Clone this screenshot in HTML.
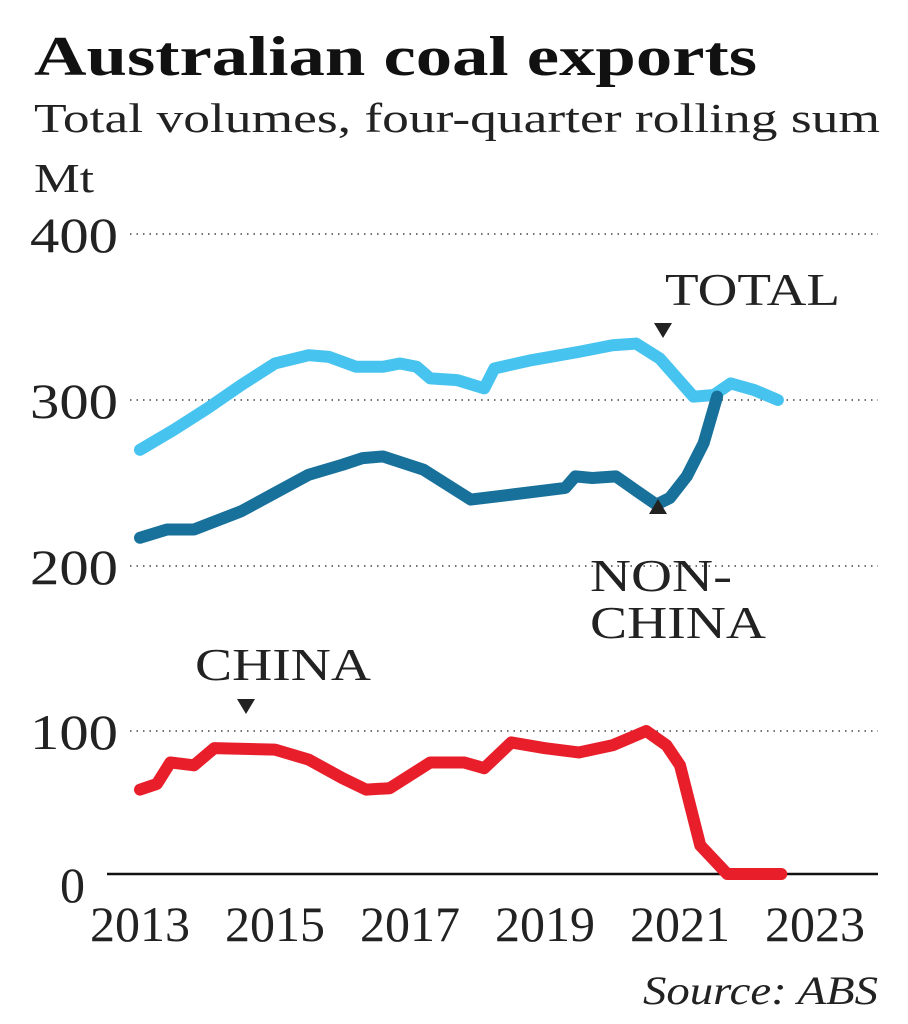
<!DOCTYPE html>
<html><head><meta charset="utf-8"><style>
body{margin:0;background:#fff;}
svg{display:block;font-family:"Liberation Serif",serif;}
</style></head><body>
<svg id="c" width="908" height="1024">
<text x="34" y="75" font-size="56" font-weight="bold" fill="#111" textLength="723" lengthAdjust="spacingAndGlyphs">Australian coal exports</text>
<text x="34" y="132" font-size="41" fill="#222" textLength="846" lengthAdjust="spacingAndGlyphs">Total volumes, four-quarter rolling sum</text>
<text x="34" y="192" font-size="41" fill="#222" textLength="60" lengthAdjust="spacingAndGlyphs">Mt</text>
<g id="grid"></g><g id="lines"></g>
<text x="665" y="305" font-size="46" fill="#222" textLength="175" lengthAdjust="spacingAndGlyphs">TOTAL</text>
<polygon points="654,323 672,323 663,338" fill="#222"/>
<text x="590" y="591" font-size="46" fill="#222" textLength="142" lengthAdjust="spacingAndGlyphs">NON-</text>
<text x="590" y="638" font-size="46" fill="#222" textLength="176" lengthAdjust="spacingAndGlyphs">CHINA</text>
<polygon points="649,514 667,514 658,499" fill="#222"/>
<text x="195" y="680" font-size="46" fill="#222" textLength="176" lengthAdjust="spacingAndGlyphs">CHINA</text>
<polygon points="237,699 255,699 246,714" fill="#222"/>
<text x="878" y="1004" font-size="40" font-style="italic" fill="#222" text-anchor="end" textLength="235" lengthAdjust="spacingAndGlyphs">Source: ABS</text>
</svg>
<script>
const yTicks=[0,100,200,300,400];
const xTicks=[2013,2015,2017,2019,2021,2023];
const totalYears=[2013,2013.5,2014,2014.5,2015,2015.5,2015.8,2016.2,2016.6,2016.85,2017.1,2017.3,2017.7,2018.1,2018.25,2018.8,2019.5,2020.0,2020.35,2020.7,2021.2,2021.5,2021.75,2022.1,2022.45];
const totalValues=[270,282,295,309,322,327,326,320,320,322,320,313,312,307,319,324,329,333,334,325,302,303,310,306,300];
const nonChinaYears=[2013,2013.4,2013.8,2014.5,2015.0,2015.5,2016.0,2016.3,2016.6,2017.2,2017.9,2018.5,2019.3,2019.45,2019.7,2020.05,2020.4,2020.65,2020.85,2021.1,2021.35,2021.55];
const nonChinaValues=[217,222,222,233,244,255,261,265,266,258,240,243,247,254,253,254,244,237,241,254,274,302];
const chinaYears=[2013,2013.25,2013.45,2013.8,2014.1,2015.0,2015.5,2016.0,2016.35,2016.7,2017.0,2017.3,2017.8,2018.1,2018.5,2019.0,2019.5,2020.0,2020.5,2020.8,2021.0,2021.3,2021.7,2022.5];
const chinaValues=[59,63,78,76,88,87,80,67,59,60,69,78,78,74,92,88,85,90,100,90,76,20,0,0];
function X(v){return 140+(v-2013)*67.5;}
const yD=[0,100,200,300,400],yR=[874,731,566,400,234];
function Y(v){for(let i=0;i<4;i++){if(v<=yD[i+1]||i==3){return yR[i]+(v-yD[i])/(yD[i+1]-yD[i])*(yR[i+1]-yR[i]);}}}
const NS="http://www.w3.org/2000/svg";
const grid=document.getElementById('grid'),lines=document.getElementById('lines');
function mk(t,a,p){const e=document.createElementNS(NS,t);for(const k in a)e.setAttribute(k,a[k]);p.appendChild(e);return e;}
yTicks.forEach(v=>{
 const l=mk('line',v===0?{x1:107,x2:878,y1:Y(v),y2:Y(v),stroke:'#111','stroke-width':2.5}:{x1:130,x2:878,y1:Y(v),y2:Y(v),stroke:'#444','stroke-width':1.5,'stroke-dasharray':'1.5,5'},grid);
 
 
 const a={x:v===0?85:118,y:Y(v)+(v===0?28:18),'font-size':50,'text-anchor':'end',fill:'#222'};
 if(v>0){a.textLength=88;a.lengthAdjust='spacingAndGlyphs';}
 const t=mk('text',a,grid);
 t.textContent=v;
 
 
});
xTicks.forEach(v=>{
 const t=mk('text',{x:X(v)-50,y:941,'font-size':50,fill:'#222',textLength:100,lengthAdjust:'spacingAndGlyphs'},grid);
 t.textContent=v;
 
 
});
function line(xs,ys,col,name){
 const p=mk('polyline',{points:xs.map((x,i)=>X(x)+','+Y(ys[i])).join(' '),fill:'none',stroke:col,'stroke-width':12,'stroke-linejoin':'round','stroke-linecap':'round'},lines);
 
 
}
line(totalYears,totalValues,'#47c3f0','total-line');
line(nonChinaYears,nonChinaValues,'#17719a','non-china-line');
line(chinaYears,chinaValues,'#e81f2a','china-line');
</script>
</body></html>
